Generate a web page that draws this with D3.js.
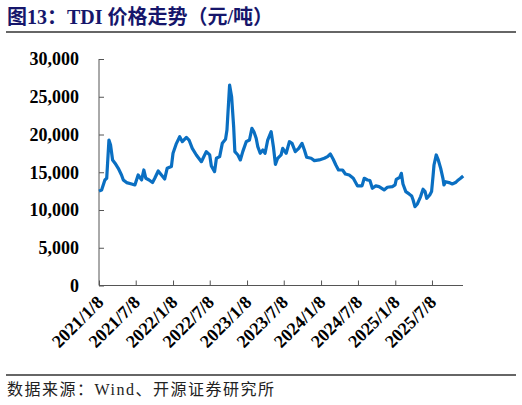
<!DOCTYPE html>
<html lang="zh">
<head>
<meta charset="UTF-8">
<title>TDI价格走势</title>
<script src="https://d3js.org/d3.v7.min.js"></script>
<style>
  body { margin: 0; background: #fff; }
  .ttl { font-family: "Liberation Serif", "Noto Sans CJK SC", serif; font-weight: bold; font-size: 20px; fill: #16166b; }
  .src { font-family: "Liberation Serif", "Noto Sans CJK SC", serif; font-size: 16px; letter-spacing: 1.5px; fill: #222; }
  .axis text { font-family: "Liberation Serif", serif; font-weight: bold; font-size: 18px; fill: #000; }
  .axis path, .axis line { stroke: #555; }
</style>
</head>
<body>
<script>
// weekly TDI price (元/吨)
const dates = [
  "2021-01-08","2021-01-21","2021-02-06","2021-02-15","2021-02-26","2021-03-06","2021-03-16","2021-03-28",
  "2021-04-13","2021-04-29","2021-05-08","2021-05-24","2021-06-18","2021-07-04","2021-07-20","2021-08-06",
  "2021-08-17","2021-08-27","2021-09-12","2021-09-29","2021-10-10","2021-10-27","2021-11-12","2021-11-28",
  "2021-12-10","2021-12-31","2022-01-08","2022-01-25","2022-02-10","2022-02-23","2022-03-15","2022-03-28",
  "2022-04-13","2022-05-03","2022-05-28","2022-06-21","2022-07-08","2022-07-16","2022-08-01","2022-08-10",
  "2022-08-26","2022-09-08","2022-09-24","2022-10-01","2022-10-14","2022-10-24","2022-11-03","2022-11-09",
  "2022-11-24","2022-12-06","2022-12-18","2023-01-04","2023-01-20","2023-02-01","2023-02-11","2023-02-22",
  "2023-03-02","2023-03-14","2023-03-27","2023-04-07","2023-04-20","2023-05-07","2023-05-18","2023-05-28",
  "2023-06-08","2023-06-25","2023-07-03","2023-07-20","2023-08-05","2023-08-18","2023-09-03","2023-09-20",
  "2023-10-06","2023-10-18","2023-10-29","2023-11-20","2023-12-06","2023-12-30","2024-01-24","2024-02-09",
  "2024-02-23","2024-03-08","2024-03-21","2024-04-03","2024-04-23","2024-05-07","2024-05-26","2024-06-15",
  "2024-07-06","2024-07-28","2024-08-08","2024-08-24","2024-09-05","2024-09-17","2024-10-04","2024-10-20",
  "2024-11-14","2024-11-30","2024-12-25","2025-01-07","2025-01-13","2025-01-30","2025-02-07","2025-02-15",
  "2025-03-01","2025-03-17","2025-03-30","2025-04-06","2025-04-15","2025-04-27","2025-05-13","2025-05-25",
  "2025-06-04","2025-06-12","2025-06-27","2025-07-06","2025-07-13","2025-07-18","2025-07-29","2025-08-08",
  "2025-08-20","2025-08-31","2025-09-05","2025-09-13","2025-09-30","2025-10-16","2025-11-01","2025-11-15",
  "2025-11-26","2025-12-09"
];
const prices = [
  12500,12650,13980,14200,19270,18600,16630,16200,
  15520,14640,13980,13630,13450,13320,14640,13980,
  15300,14200,13980,13630,14200,15170,14640,14110,
  15520,15750,17510,18830,19710,19050,19620,19270,
  18170,17290,16400,17730,17290,15830,15080,16850,
  17070,18830,19360,20600,26550,25000,21040,17730,
  17290,16630,17730,19050,19270,20820,20370,19500,
  18390,17510,17950,17510,19270,20370,18390,16050,
  16850,17290,18170,17510,19050,18830,17730,18170,
  18830,17950,16980,16850,16540,16630,16850,17070,
  17420,16720,15960,15300,15300,14770,14640,14200,
  13190,13190,14200,13980,13900,12880,13190,13100,
  12660,13010,13100,13320,14070,14330,14860,13450,
  12440,12130,11860,11330,10450,10800,11780,12750,
  12440,11550,11990,12440,14420,15960,17290,16630,
  15520,14200,13320,13750,13630,13450,13630,13980,
  14200,14510
];
const tickDates = ["2021-01-08","2021-07-08","2022-01-08","2022-07-08","2023-01-08",
  "2023-07-08","2024-01-08","2024-07-08","2025-01-08","2025-07-08"];
const yTicks = [0, 5000, 10000, 15000, 20000, 25000, 30000];

const W = 522, H = 405;
const parse = d3.timeParse("%Y-%m-%d");
const data = dates.map((d, i) => ({ date: parse(d), v: prices[i] }));

const svg = d3.select("body").append("svg")
  .attr("width", W).attr("height", H);

// title and rules
svg.append("text").attr("class", "ttl").attr("x", 7).attr("y", 24)
  .text("图13：TDI 价格走势（元/吨）");
svg.append("line").attr("x1", 6).attr("x2", 516).attr("y1", 32).attr("y2", 32)
  .attr("stroke", "#333").attr("stroke-width", 1.3);
svg.append("line").attr("x1", 6).attr("x2", 516).attr("y1", 375).attr("y2", 375)
  .attr("stroke", "#333").attr("stroke-width", 1.3);
svg.append("text").attr("class", "src").attr("x", 7).attr("y", 395)
  .text("数据来源：Wind、开源证券研究所");

// scales
const x = d3.scaleTime()
  .domain([parse("2021-01-08"), parse("2025-12-08")])
  .range([99, 463]);
const y = d3.scaleLinear().domain([0, 30000]).range([285.5, 59]);

// axes (ticks point inward)
const yAxis = svg.append("g").attr("class", "axis")
  .attr("transform", "translate(99,0)")
  .call(d3.axisLeft(y).tickValues(yTicks).tickSize(-5).tickPadding(20)
    .tickFormat(d3.format(",")));
yAxis.select(".domain").attr("d", `M0,${y(30000)}V${y(0)}`);

const xAxis = svg.append("g").attr("class", "axis")
  .attr("transform", `translate(0,${y(0)})`)
  .call(d3.axisBottom(x).tickValues(tickDates.map(parse)).tickSize(-5)
    .tickFormat(d3.timeFormat("%Y/%-m/%-d")));
xAxis.select(".domain").attr("d", `M99,0H463`);
xAxis.selectAll("text")
  .attr("text-anchor", "end")
  .attr("dy", null)
  .attr("transform", "translate(5,18) rotate(-45)")
  .attr("y", 0).attr("x", 0);

// line
svg.append("path").datum(data)
  .attr("fill", "none")
  .attr("stroke", "#0a6fc2")
  .attr("stroke-width", 3.2)
  .attr("stroke-linejoin", "round")
  .attr("d", d3.line().x(d => x(d.date)).y(d => y(d.v)));
</script>
</body>
</html>
